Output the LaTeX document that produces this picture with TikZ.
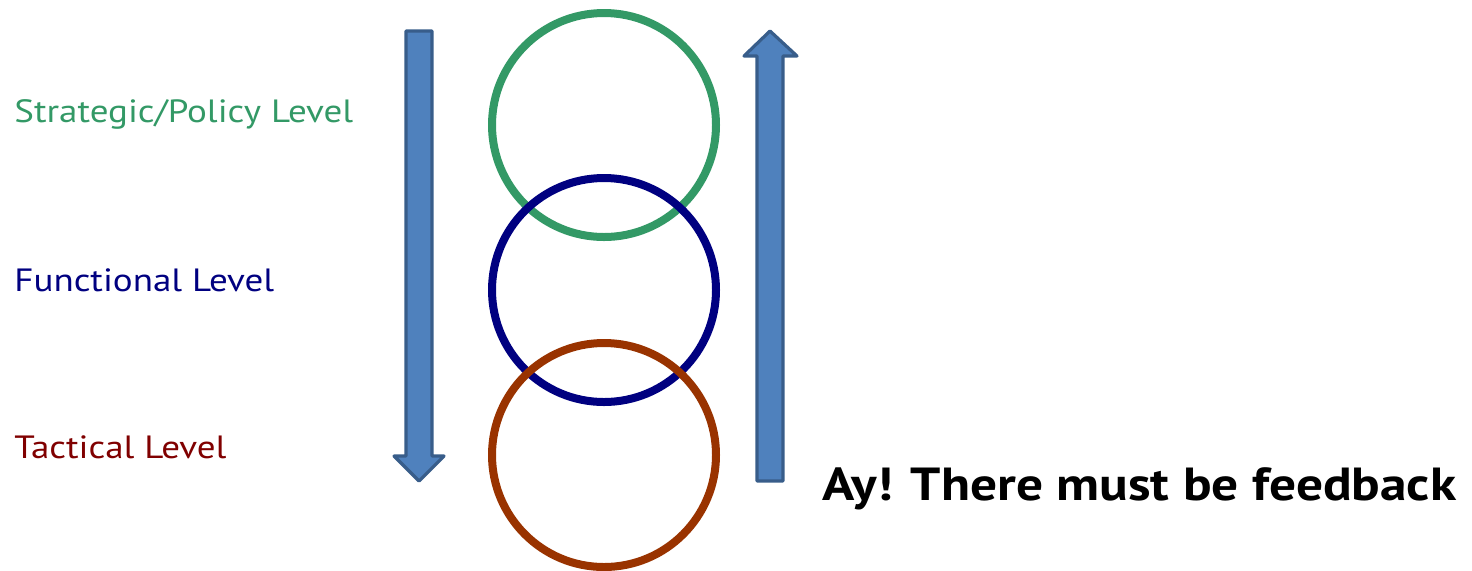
\documentclass[tikz,border=0pt]{standalone}
\usepackage{fontspec}
\setmainfont{PT Sans}[FakeStretch=1.15]
\definecolor{lvgreen}{HTML}{339966}
\definecolor{lvblue}{HTML}{000080}
\definecolor{lvbrown}{HTML}{993300}
\definecolor{lvred}{HTML}{800000}
\definecolor{arfill}{HTML}{4F81BD}
\definecolor{ardraw}{HTML}{385D8A}
\tikzset{
  ring/.style={line width=4pt},
  levellabel/.style={anchor=west,inner sep=0pt,font=\fontsize{16.1}{18}\selectfont},
  bigarrow/.style={fill=arfill,draw=ardraw,line width=1.6pt,line join=round}
}
\begin{document}
\begin{tikzpicture}[x=0.5pt,y=-0.5pt,line cap=round,line join=round]
  \useasboundingbox (0,0) rectangle (1472,570);
  % 三个圆环
  \draw[ring,lvgreen] (604,125) circle (56pt);
  \draw[ring,lvblue] (604,290) circle (56pt);
  \draw[ring,lvbrown] (604,455) circle (56pt);
  % 向下箭头
  \draw[bigarrow] (406,31) -- (432,31) -- (432,456) -- (444,456) -- (419,481)
    -- (394,456) -- (406,456) -- cycle;
  % 向上箭头
  \draw[bigarrow] (757,481) -- (783,481) -- (783,56) -- (797,56) -- (770,31)
    -- (744,56) -- (757,56) -- cycle;
  % 层次标签
  \node[levellabel,text=lvgreen] (strat) at (14,114) {Strategic/Policy Level};
  \node[levellabel,text=lvblue] (func) at (14,280) {Functional Level};
  \node[levellabel,text=lvred] (tact) at (14,447) {Tactical Level};
  \node[anchor=west,inner sep=0pt,font=\fontsize{23.2}{26}\selectfont\bfseries] (fb) at (822,489) {Ay! There must be feedback};
\end{tikzpicture}
\end{document}
